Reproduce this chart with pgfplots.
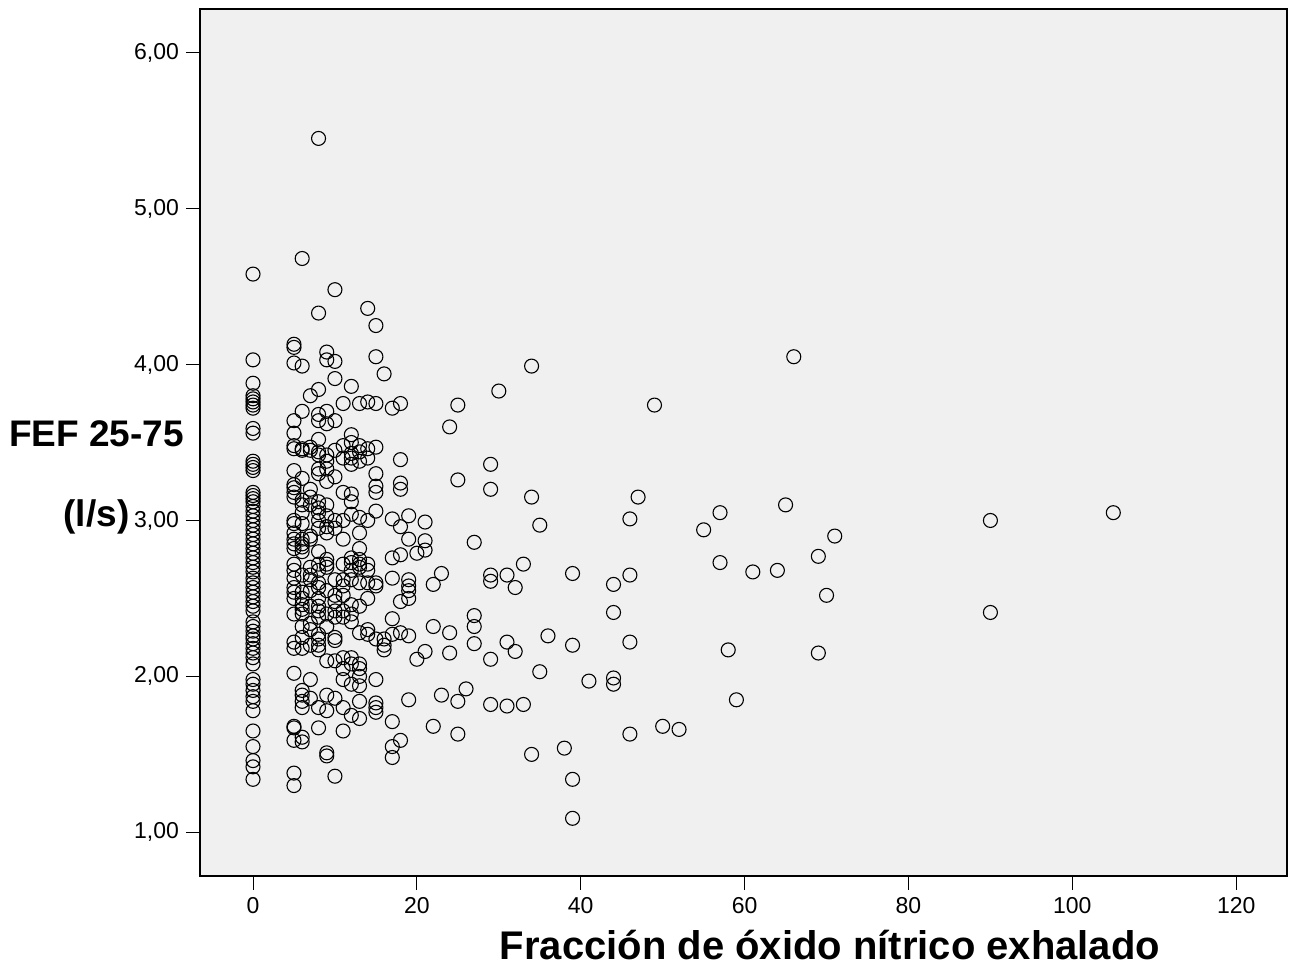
\documentclass[border=0pt]{standalone}
\usepackage{fontspec}
\setmainfont{Liberation Sans}
\usepackage{pgfplots}
\pgfplotsset{compat=1.18}
\usepackage{pgfplotstable}
\definecolor{panel}{HTML}{F0F0F0}

% FeNO (ppb) against FEF 25-75 (l/s)
\pgfplotstableread{
x y
0 4.58
0 4.03
0 3.88
0 3.80
0 3.78
0 3.76
0 3.74
0 3.72
0 3.59
0 3.56
0 3.38
0 3.36
0 3.34
0 3.32
0 3.18
0 3.16
0 3.14
0 3.12
0 3.09
0 3.06
0 3.03
0 3.00
0 2.97
0 2.94
0 2.91
0 2.88
0 2.85
0 2.82
0 2.79
0 2.76
0 2.73
0 2.70
0 2.67
0 2.63
0 2.60
0 2.57
0 2.54
0 2.51
0 2.48
0 2.45
0 2.42
0 2.35
0 2.32
0 2.29
0 2.26
0 2.24
0 2.21
0 2.18
0 2.15
0 2.12
0 2.08
0 1.98
0 1.95
0 1.91
0 1.87
0 1.84
0 1.78
0 1.65
0 1.55
0 1.46
0 1.42
0 1.34
5 4.13
5 4.11
5 4.01
5 3.64
5 3.56
5 3.48
5 3.46
5 3.32
5 3.23
5 3.21
5 3.18
5 3.15
5 3.00
5 2.98
5 2.92
5 2.88
5 2.85
5 2.82
5 2.72
5 2.68
5 2.63
5 2.57
5 2.54
5 2.50
5 2.40
5 2.22
5 2.18
5 2.02
5 1.68
5 1.67
5 1.59
5 1.38
5 1.30
6 4.68
6 3.99
6 3.70
6 3.46
6 3.45
6 3.27
6 3.13
6 3.10
6 3.05
6 2.98
6 2.88
6 2.85
6 2.83
6 2.80
6 2.65
6 2.54
6 2.50
6 2.46
6 2.43
6 2.40
6 2.32
6 2.25
6 2.18
6 1.91
6 1.88
6 1.84
6 1.80
6 1.61
6 1.58
7 3.80
7 3.47
7 3.45
7 3.20
7 3.15
7 3.10
7 2.90
7 2.88
7 2.70
7 2.65
7 2.62
7 2.55
7 2.45
7 2.34
7 2.30
7 2.20
7 1.98
7 1.86
8 5.45
8 4.33
8 3.84
8 3.68
8 3.64
8 3.52
8 3.44
8 3.42
8 3.33
8 3.30
8 3.12
8 3.08
8 3.05
8 3.00
8 2.95
8 2.80
8 2.72
8 2.68
8 2.60
8 2.57
8 2.50
8 2.45
8 2.42
8 2.38
8 2.27
8 2.24
8 2.20
8 2.17
8 1.80
8 1.67
9 4.08
9 4.03
9 3.70
9 3.62
9 3.42
9 3.38
9 3.33
9 3.25
9 3.10
9 3.03
9 2.96
9 2.92
9 2.75
9 2.72
9 2.70
9 2.55
9 2.40
9 2.32
9 2.10
9 1.88
9 1.78
9 1.51
9 1.49
10 4.48
10 4.02
10 3.91
10 3.64
10 3.45
10 3.28
10 3.00
10 2.95
10 2.62
10 2.52
10 2.48
10 2.42
10 2.38
10 2.25
10 2.23
10 2.10
10 1.86
10 1.36
11 3.75
11 3.48
11 3.40
11 3.18
11 3.00
11 2.88
11 2.72
11 2.62
11 2.58
11 2.52
11 2.42
11 2.38
11 2.12
11 2.05
11 1.98
11 1.80
11 1.65
12 3.86
12 3.55
12 3.50
12 3.43
12 3.40
12 3.36
12 3.17
12 3.12
12 3.04
12 2.76
12 2.73
12 2.68
12 2.62
12 2.46
12 2.40
12 2.35
12 2.12
12 2.08
12 1.95
12 1.75
13 3.75
13 3.48
13 3.44
13 3.38
13 3.02
13 2.92
13 2.82
13 2.75
13 2.72
13 2.70
13 2.60
13 2.45
13 2.28
13 2.08
13 2.05
13 2.00
13 1.94
13 1.84
13 1.73
14 4.36
14 3.76
14 3.46
14 3.40
14 3.00
14 2.72
14 2.68
14 2.60
14 2.50
14 2.30
14 2.27
15 4.25
15 4.05
15 3.75
15 3.47
15 3.30
15 3.22
15 3.18
15 3.06
15 2.60
15 2.58
15 2.24
15 1.98
15 1.83
15 1.80
15 1.77
16 3.94
16 2.24
16 2.20
16 2.17
17 3.72
17 3.01
17 2.76
17 2.63
17 2.37
17 2.27
17 1.71
17 1.55
17 1.48
18 3.75
18 3.39
18 3.24
18 3.20
18 2.96
18 2.78
18 2.48
18 2.28
18 1.59
19 3.03
19 2.88
19 2.62
19 2.58
19 2.55
19 2.50
19 2.26
19 1.85
20 2.79
20 2.11
21 2.99
21 2.87
21 2.81
21 2.16
22 2.59
22 2.32
22 1.68
23 2.66
23 1.88
24 3.60
24 2.28
24 2.15
25 3.74
25 3.26
25 1.84
25 1.63
26 1.92
27 2.86
27 2.39
27 2.32
27 2.21
29 3.36
29 3.20
29 2.65
29 2.61
29 2.11
29 1.82
30 3.83
31 2.65
31 2.22
31 1.81
32 2.57
32 2.16
33 2.72
33 1.82
34 3.99
34 3.15
34 1.50
35 2.97
35 2.03
36 2.26
38 1.54
39 2.66
39 2.20
39 1.34
39 1.09
41 1.97
44 2.59
44 2.41
44 1.99
44 1.95
46 3.01
46 2.65
46 2.22
46 1.63
47 3.15
49 3.74
50 1.68
52 1.66
55 2.94
57 3.05
57 2.73
58 2.17
59 1.85
61 2.67
64 2.68
65 3.10
66 4.05
69 2.77
69 2.15
70 2.52
71 2.90
90 3.00
90 2.41
105 3.05
}\feno

\begin{document}
\begin{tikzpicture}
\useasboundingbox (-100pt,-47pt) rectangle (546.5pt,438pt);
\begin{axis}[
  scale only axis,
  width=543.5pt, height=433.5pt,
  xmin=-6.47, xmax=126.2,
  ymin=0.72, ymax=6.28,
  axis background/.style={fill=panel},
  axis line style={line width=0.8pt, black},
  tick pos=left,
  tick align=outside,
  major tick length=7pt,
  tick style={black, line width=0.5pt},
  xtick={0,20,...,120},
  ytick={1,2,3,4,5,6},
  /pgf/number format/assume math mode=true,
  yticklabel style={
    /pgf/number format/fixed,
    /pgf/number format/fixed zerofill,
    /pgf/number format/precision=2,
    /pgf/number format/use comma},
  ticklabel style={font=\fontsize{11.5}{13}\selectfont},
  xlabel={Fracción de óxido nítrico exhalado},
  xlabel style={font=\fontsize{20}{24}\selectfont\bfseries,
    at={(axis description cs:0.5795,-0.0796)}, anchor=center},
  ylabel={FEF 25-75\\(l/s)},
  ylabel style={font=\fontsize{18.5}{40}\selectfont\bfseries,
    rotate=-90, align=center,
    at={(axis description cs:-0.0952,0.46)}, anchor=center},
]
\addplot[only marks, mark=o, mark size=3.5pt,
  mark options={line width=0.55pt, draw=black}]
  table[x=x, y=y] {\feno};
\end{axis}
\end{tikzpicture}
\end{document}
